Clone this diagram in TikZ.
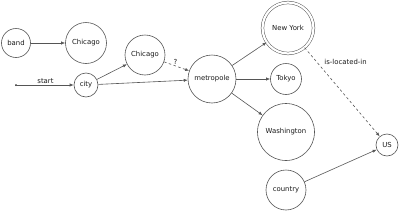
\documentclass[tikz,border=0pt]{standalone}
\usepackage{fontspec}
\setmainfont{DejaVu Sans}
\usetikzlibrary{
  arrows.meta,
  positioning
}
\definecolor{ink}{HTML}{1A1A1A}
\definecolor{linegray}{HTML}{555555}
\tikzset{
  font=\fontsize{6.9}{8}\selectfont,
  concept/.style={
    circle,
    draw=linegray,
    line width=0.6pt,
    fill=white,
    text=ink,
    inner sep=0pt,
    align=center
  },
  answer/.style={
    concept,
    double=white,
    double distance=2.2pt,
    line width=0.5pt
  },
  entry/.style={circle, fill=ink, inner sep=0pt, minimum size=2pt},
  link/.style={-{Latex[length=4pt,width=3.2pt]}, draw=linegray, line width=0.6pt},
  guess/.style={link, dashed, dash pattern=on 2.5pt off 2.5pt},
  edge label/.style={text=ink, inner sep=1.5pt}
}

\begin{document}
\begin{tikzpicture}[x=1pt,y=-1pt]
  \useasboundingbox (0,0) rectangle (400,212);

  % Left side: entities and the starting point
  \node[concept, minimum size=29pt] (band) at (16,43) {band};
  \node[concept, minimum size=41pt] (chicagoA) at (86,43) {Chicago};
  \node[entry] (start) at (16,85) {};
  \node[concept, minimum size=24pt] (city) at (86,85) {city};
  \node[concept, minimum size=40pt] (chicagoB) at (145,55) {Chicago};

  % Middle and right: categories and cities
  \node[concept, minimum size=48pt] (metropole) at (212,79) {metropole};
  \node[answer, minimum size=51pt] (newyork) at (288,28) {New York};
  \node[concept, minimum size=31pt] (tokyo) at (286,79) {Tokyo};
  \node[concept, minimum size=57pt] (washington) at (286,132) {Washington};
  \node[concept, minimum size=40pt] (country) at (286,190) {country};
  \node[concept, minimum size=22pt] (us) at (387,145) {US};

  % Connections
  \draw[link] (band) -- (chicagoA);
  \draw[link] (start) -- node[edge label, above] {start} (city);
  \draw[link] (city) -- (chicagoB);
  \draw[link] (city) -- (metropole);
  \draw[guess] (chicagoB) -- node[edge label, above, pos=0.45] {?} (metropole);
  \draw[link] (metropole) -- (newyork);
  \draw[link] (metropole) -- (tokyo);
  \draw[link] (metropole) -- (washington);
  \draw[guess] (newyork) -- node[edge label, anchor=west, pos=0.16, xshift=6pt] {is-located-in} (us);
  \draw[link] (country) -- (us);
\end{tikzpicture}
\end{document}
